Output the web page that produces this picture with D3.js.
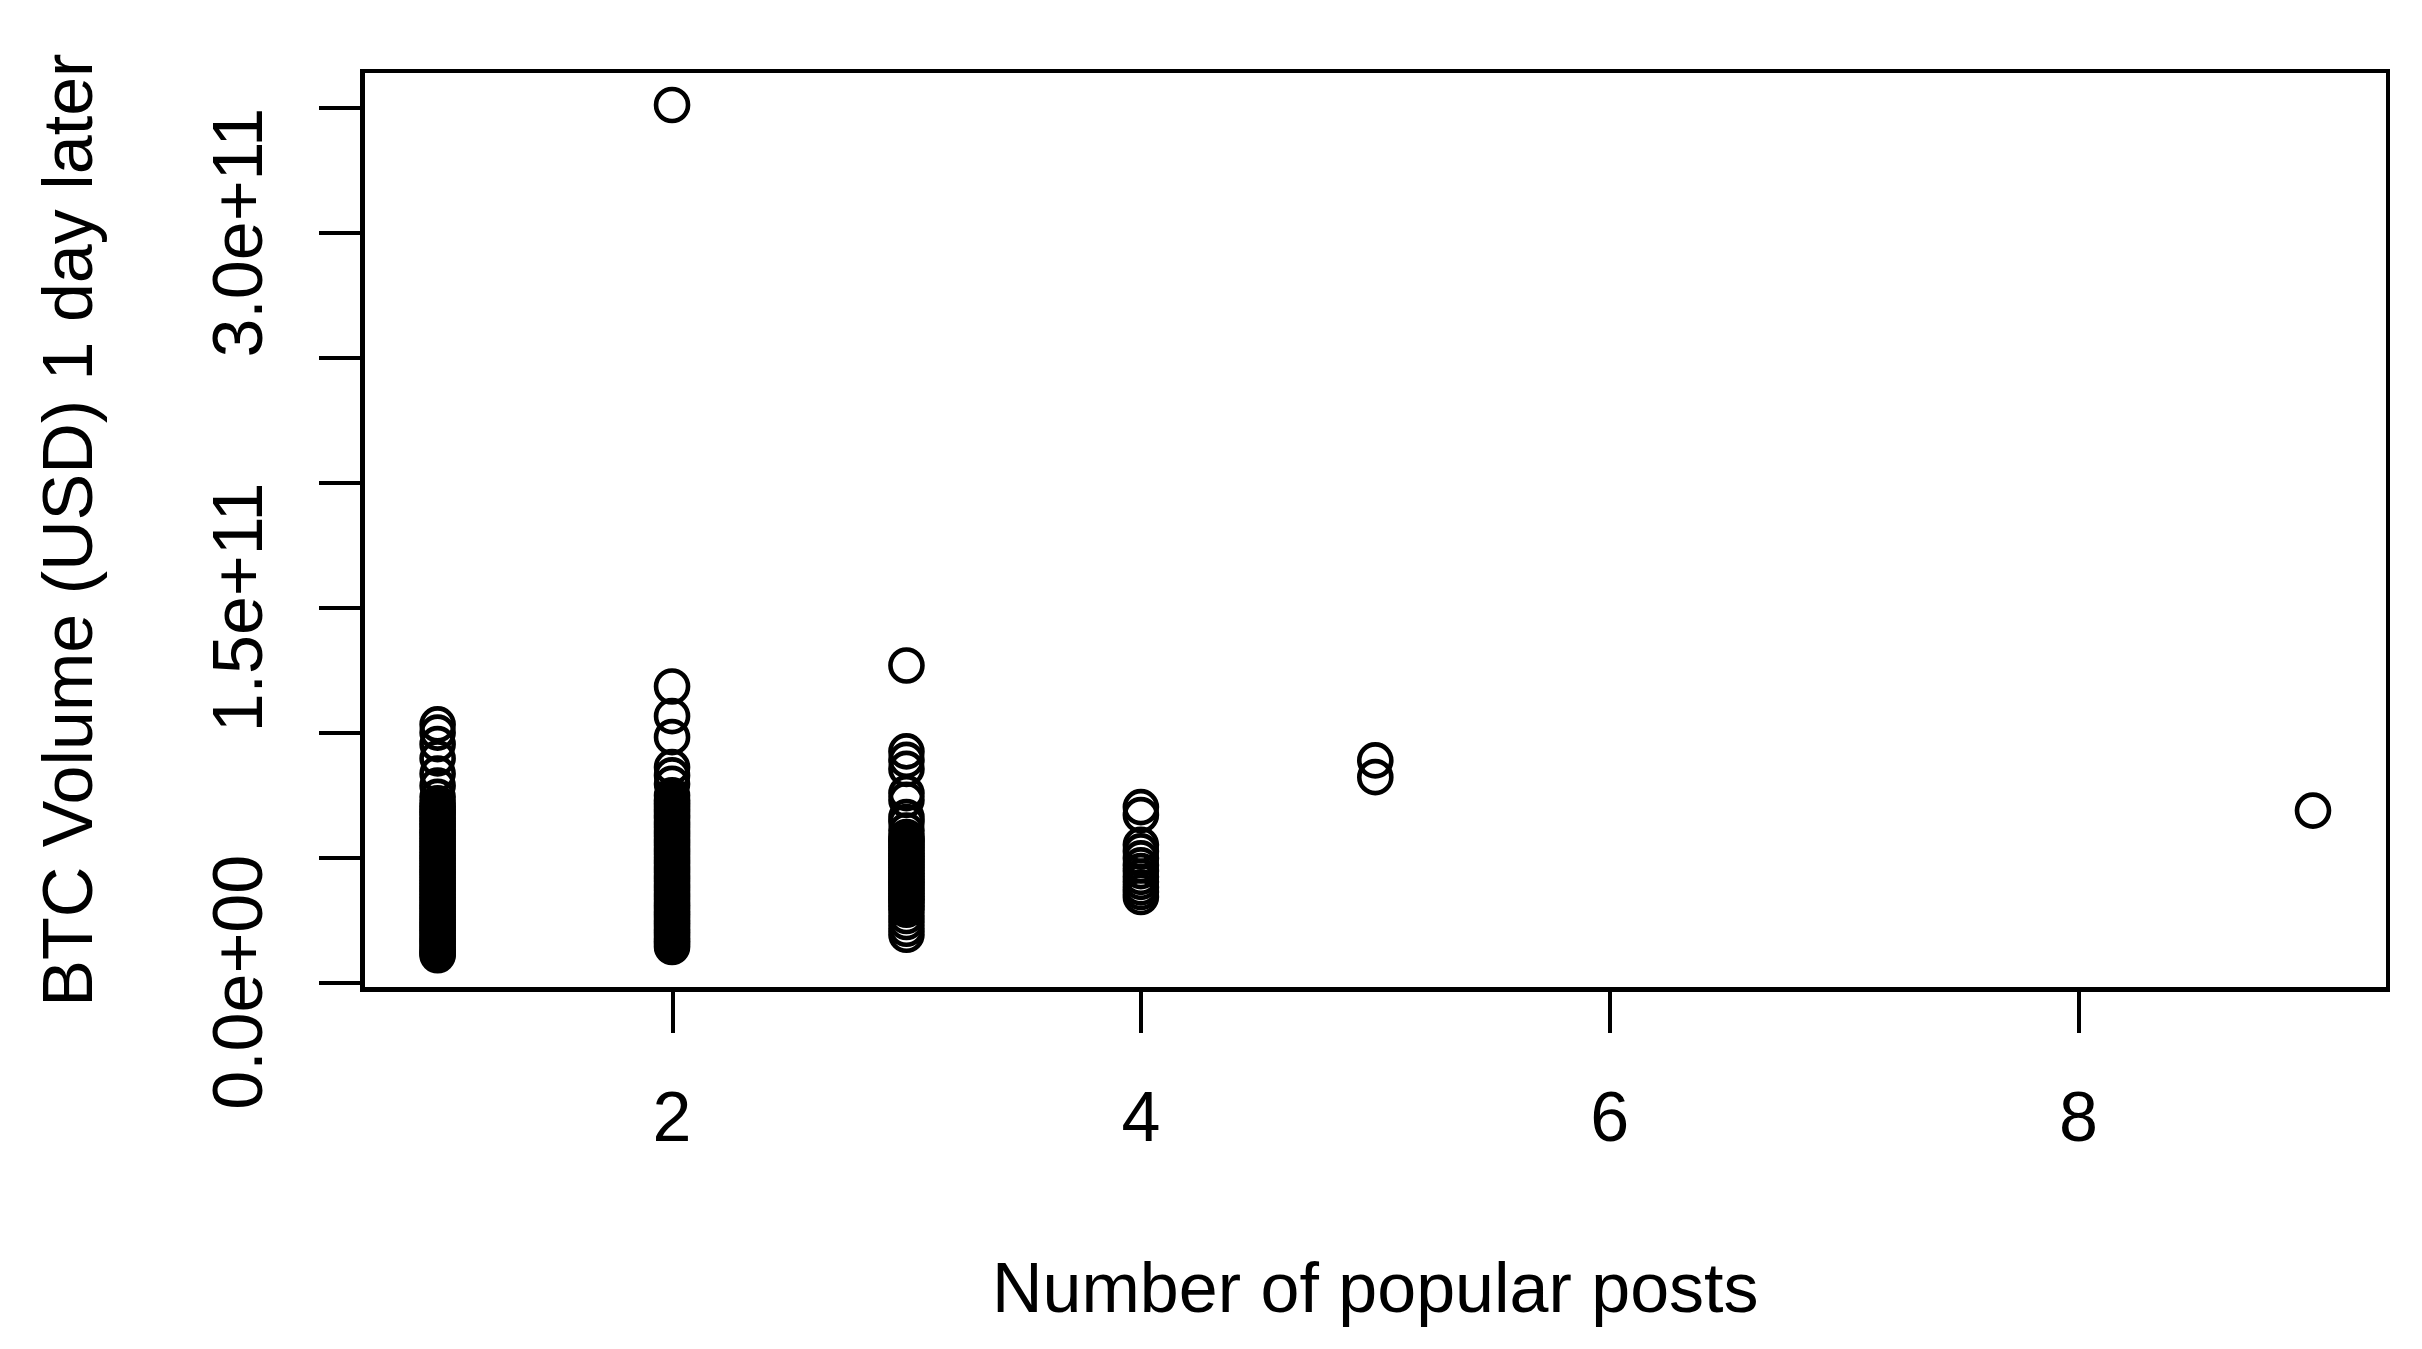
<!DOCTYPE html>
<html>
<head>
<meta charset="utf-8">
<script src="https://cdn.jsdelivr.net/npm/d3@7"></script>
<style>
  html, body { margin: 0; padding: 0; background: #ffffff; }
  svg { display: block; }
  text { font-family: "Liberation Sans", Arial, sans-serif; fill: #000; }
</style>
</head>
<body>
<svg id="chart" width="2422" height="1349"></svg>
<script>
// ---- Data (volume values in billions of USD) ----
const UNIT = 1e9;
const postCounts = [1, 2, 3, 4, 5, 9];
const volPosts1 = [103.2, 99.9, 95.3, 89.6, 83.5, 78.7, 74.2, 71.6, 70.3, 69.1, 68.2, 66.9, 65.8, 64.4, 63.5, 62.1,
  61.0, 59.8, 58.9, 57.5, 56.6, 55.2, 54.3, 53.1, 51.9, 50.8, 49.6, 48.7, 47.4, 46.3, 45.2, 44.0, 43.1, 41.8,
  40.7, 39.6, 38.5, 37.3, 36.4, 35.1, 34.0, 32.9, 31.8, 30.6, 29.7, 28.4, 27.3, 26.2, 25.1, 24.0, 22.8, 21.9,
  20.7, 19.6, 18.5, 17.3, 16.4, 15.2, 14.1, 13.0, 12.1, 11.4, 10.8];
const volPosts2 = [351.1, 118.4, 106.5, 98.1, 86.1, 82.8, 79.4, 74.8, 73.0, 71.7, 70.5, 69.2, 68.0, 66.7, 65.6,
  64.2, 63.1, 61.9, 60.6, 59.5, 58.3, 57.0, 55.9, 54.7, 53.4, 52.3, 51.1, 49.8, 48.6, 47.5, 46.2, 45.1, 43.9,
  42.6, 41.5, 40.3, 39.0, 37.9, 36.7, 35.4, 34.3, 33.1, 31.8, 30.7, 29.5, 28.2, 27.1, 25.9, 24.6, 23.5, 22.3,
  21.0, 19.9, 18.7, 17.4, 16.3, 15.2, 14.1];
const volPosts3 = [126.8, 92.4, 89.0, 85.4, 75.7, 73.0, 66.1, 64.1, 60.7, 58.1, 57.2, 56.1, 55.0, 53.8, 52.7,
  51.5, 50.4, 49.3, 48.1, 47.0, 45.8, 44.7, 43.5, 42.4, 41.2, 40.1, 38.9, 37.8, 36.6, 35.5, 34.3, 33.2, 32.1,
  30.4, 29.0, 26.5, 24.1, 21.4, 19.0];
const volPosts4 = [70.1, 66.9, 55.0, 52.4, 49.6, 46.8, 44.5, 42.2, 40.2, 38.0, 36.1, 34.1];
const volPosts5 = [88.8, 82.1];
const volPosts9 = [68.7];
const volumeSeries = [volPosts1, volPosts2, volPosts3, volPosts4, volPosts5, volPosts9];

const xTickValues = [2, 4, 6, 8];
const yTickValues = [0, 5e10, 1e11, 1.5e11, 2e11, 2.5e11, 3e11, 3.5e11];
const yTickLabels = {0: "0.0e+00", 1.5e11: "1.5e+11", 3e11: "3.0e+11"};
const xTitle = "Number of popular posts";
const yTitle = "BTC Volume (USD) 1 day later";

// ---- Build points ----
const points = [];
postCounts.forEach((c, i) => volumeSeries[i].forEach(v => points.push({x: c, y: v * UNIT})));

// ---- Layout ----
const plot = {left: 362.6, right: 2388, top: 71, bottom: 989.3};
const FS = 70;

function padded(ext) {
  const d = (ext[1] - ext[0]) * 0.04;
  return [ext[0] - d, ext[1] + d];
}
const x = d3.scaleLinear().domain(padded(d3.extent(points, d => d.x))).range([plot.left, plot.right]);
const y = d3.scaleLinear().domain(padded(d3.extent(points, d => d.y))).range([plot.bottom, plot.top]);

const svg = d3.select("#chart");

// Points
svg.append("g")
  .selectAll("circle").data(points).join("circle")
  .attr("cx", d => x(d.x)).attr("cy", d => y(d.y)).attr("r", 16)
  .attr("fill", "none").attr("stroke", "#000").attr("stroke-width", 4.6);

// Axes (ticks only; box drawn separately)
const xAxis = d3.axisBottom(x).tickValues(xTickValues).tickSize(44).tickSizeOuter(0).tickFormat("");
const gx = svg.append("g").attr("transform", `translate(0,${plot.bottom})`).call(xAxis);
gx.select(".domain").remove();
gx.selectAll(".tick line").attr("stroke", "#000").attr("stroke-width", 4).attr("shape-rendering", "crispEdges");

const yAxis = d3.axisLeft(y).tickValues(yTickValues).tickSize(44).tickSizeOuter(0).tickFormat("");
const gy = svg.append("g").attr("transform", `translate(${plot.left},0)`).call(yAxis);
gy.select(".domain").remove();
gy.selectAll(".tick line").attr("stroke", "#000").attr("stroke-width", 4).attr("shape-rendering", "crispEdges");

// Tick labels
svg.append("g").selectAll("text").data(xTickValues).join("text")
  .attr("x", d => x(d)).attr("y", 1141)
  .attr("text-anchor", "middle").attr("font-size", FS)
  .text(d => String(d));

svg.append("g").selectAll("text").data(yTickValues.filter(v => yTickLabels[v] !== undefined)).join("text")
  .attr("transform", d => `translate(262,${y(d)}) rotate(-90)`)
  .attr("text-anchor", "middle").attr("font-size", FS)
  .text(d => yTickLabels[d]);

// Box
svg.append("rect")
  .attr("x", plot.left).attr("y", plot.top)
  .attr("width", plot.right - plot.left).attr("height", plot.bottom - plot.top)
  .attr("fill", "none").attr("stroke", "#000").attr("stroke-width", 4.6)
  .attr("shape-rendering", "crispEdges");

// Axis titles
svg.append("text")
  .attr("x", (plot.left + plot.right) / 2).attr("y", 1312)
  .attr("text-anchor", "middle").attr("font-size", FS)
  .text(xTitle);

svg.append("text")
  .attr("transform", `translate(91.5,${(plot.top + plot.bottom) / 2}) rotate(-90)`)
  .attr("text-anchor", "middle").attr("font-size", FS)
  .text(yTitle);
</script>
</body>
</html>
